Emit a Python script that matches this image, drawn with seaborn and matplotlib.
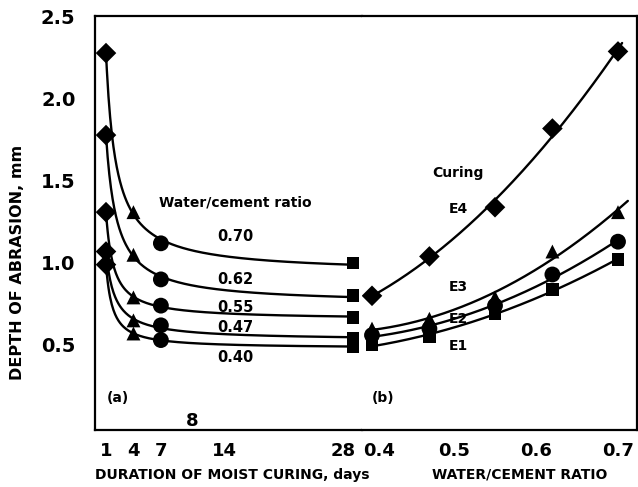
import numpy as np
import pandas as pd
import matplotlib
matplotlib.use("Agg")
import matplotlib.pyplot as plt
import matplotlib.transforms as mtransforms
import seaborn as sns

# ---------------- data ----------------
days = [1, 4, 7, 28]
day_ticks = [1, 4, 7, 14, 28]
wc_series = ["0.70", "0.62", "0.55", "0.47", "0.40"]
abr_wc070 = [2.28, 1.31, 1.12, 1.00]
abr_wc062 = [1.78, 1.05, 0.90, 0.80]
abr_wc055 = [1.31, 0.79, 0.74, 0.67]
abr_wc047 = [1.07, 0.65, 0.62, 0.54]
abr_wc040 = [0.99, 0.57, 0.53, 0.49]
day_shapes = ["D", "^", "o", "s"]

wc_ratio = [0.40, 0.47, 0.55, 0.62, 0.70]
wc_ticks = [0.4, 0.5, 0.6, 0.7]
curing = ["E4", "E3", "E2", "E1"]
abr_E4 = [0.80, 1.04, 1.34, 1.82, 2.29]
abr_E3 = [0.60, 0.66, 0.79, 1.07, 1.31]
abr_E2 = [0.56, 0.60, 0.74, 0.93, 1.13]
abr_E1 = [0.50, 0.55, 0.69, 0.84, 1.02]
curing_shapes = ["D", "^", "o", "s"]

yticks = [0.5, 1.0, 1.5, 2.0, 2.5]

# ---------------- style ----------------
sns.set_theme(style="white")
plt.rcParams["font.family"] = ["DejaVu Sans"]
plt.rcParams["font.weight"] = "bold"
plt.rcParams["text.color"] = "black"

W, H = 638, 487
fig = plt.figure(figsize=(W / 100, H / 100), dpi=100)
fig.patch.set_facecolor("white")

x0, xm, x1, yb, yt = 95, 362, 637, 430, 16
axL = fig.add_axes([x0 / W, (H - yb) / H, (xm - x0) / W, (yb - yt) / H])
axR = fig.add_axes([xm / W, (H - yb) / H, (x1 - xm) / W, (yb - yt) / H], sharey=axL)

marker_sizes = {"D": 110, "^": 100, "o": 130, "s": 85}

# ---------------- panel (a) ----------------
left_vals = [abr_wc070, abr_wc062, abr_wc055, abr_wc047, abr_wc040]
pts = []
curves = []
dd = np.linspace(1, 28, 300)
for name, vals in zip(wc_series, left_vals):
    d = np.array(days, float)
    A = np.column_stack([np.ones_like(d), 1 / d, 1 / d ** 2])
    coef, *_ = np.linalg.lstsq(A, np.array(vals), rcond=None)
    yy = coef[0] + coef[1] / dd + coef[2] / dd ** 2
    curves.append(pd.DataFrame({"x": dd, "y": yy, "series": name}))
    for dv, v, m in zip(days, vals, day_shapes):
        pts.append({"x": dv, "y": v, "shape": m, "series": name})
cL = pd.concat(curves)
pL = pd.DataFrame(pts)
sns.lineplot(data=cL, x="x", y="y", units="series", estimator=None, sort=False,
             color="black", lw=1.7, ax=axL)
sns.scatterplot(data=pL, x="x", y="y", style="shape", markers={m: m for m in day_shapes},
                size="shape", sizes=marker_sizes, color="black", edgecolor="black",
                linewidth=0, legend=False, ax=axL, zorder=5)

# ---------------- panel (b) ----------------
right_vals = [abr_E4, abr_E3, abr_E2, abr_E1]
curve_end = [0.705, 0.712, 0.70, 0.70]
pts = []
curves = []
for name, vals, m, xe in zip(curing, right_vals, curing_shapes, curve_end):
    coef = np.polyfit(wc_ratio, vals, 2)
    xx = np.linspace(0.40, xe, 200)
    curves.append(pd.DataFrame({"x": xx, "y": np.polyval(coef, xx), "series": name}))
    for w, v in zip(wc_ratio, vals):
        pts.append({"x": w, "y": v, "shape": m, "series": name})
cR = pd.concat(curves)
pR = pd.DataFrame(pts)
sns.lineplot(data=cR, x="x", y="y", units="series", estimator=None, sort=False,
             color="black", lw=1.7, ax=axR)
sns.scatterplot(data=pR, x="x", y="y", style="shape", markers={m: m for m in curing_shapes},
                size="shape", sizes=marker_sizes, color="black", edgecolor="black",
                linewidth=0, legend=False, ax=axR, zorder=5)

# ---------------- axes ----------------
px_day = (353 - 106) / 27
axL.set_xlim(1 - (106 - x0) / px_day, 1 + (xm - 106) / px_day)
px_wc = (618 - 372) / 0.3
axR.set_xlim(0.4 - (372 - xm) / px_wc, 0.7 + (x1 - 618) / px_wc)
axL.set_ylim(-3 / 164, (427 - yt) / 164)

for ax in (axL, axR):
    ax.set_xlabel("")
    ax.set_ylabel("")
    for s in ax.spines.values():
        s.set_linewidth(1.6)
        s.set_color("black")
    ax.tick_params(axis="x", direction="in", length=5, width=1.3, pad=9,
                   labelsize=13, colors="black")
axL.spines["right"].set_visible(False)
axR.spines["left"].set_visible(False)

axL.set_xticks(day_ticks)
axL.set_xticklabels([str(v) for v in day_ticks], fontweight="bold")
axR.set_xticks(wc_ticks)
axR.set_xticklabels([f"{v:.1f}" for v in wc_ticks], fontweight="bold")

# nudge the crowded "28" and "0.4" labels apart as in the reference
lab28 = axL.get_xticklabels()[-1]
lab28.set_transform(lab28.get_transform() +
                    mtransforms.ScaledTranslation(-7 / 72, 0, fig.dpi_scale_trans))
lab04 = axR.get_xticklabels()[0]
lab04.set_transform(lab04.get_transform() +
                    mtransforms.ScaledTranslation(5 / 72, 0, fig.dpi_scale_trans))

axL.set_yticks(yticks)
axL.set_yticklabels([f"{v:.1f}" for v in yticks], fontweight="bold")
axL.tick_params(axis="y", direction="in", length=6, width=1.3, pad=14,
                labelsize=14, colors="black")
axR.tick_params(axis="y", left=False, labelleft=False, right=False)

# ---------------- texts ----------------
def ftxt(x, y, s, size, **kw):
    fig.text(x / W, 1 - y / H, s, fontsize=size, fontweight="bold", color="black",
             ha=kw.pop("ha", "center"), va=kw.pop("va", "center"), **kw)

ftxt(232, 475, "DURATION OF MOIST CURING, days", 10)
ftxt(520, 475, "WATER/CEMENT RATIO", 10)
ftxt(18, 262, "DEPTH OF ABRASION, mm", 11.5, rotation=90)

ftxt(235, 202, "Water/cement ratio", 10)
for lab, yy in zip(wc_series, [236, 279, 307, 327, 358]):
    ftxt(235, yy, lab, 10.5)
ftxt(458, 173, "Curing", 10)
for lab, yy in zip(curing, [209, 287, 319, 346]):
    ftxt(458, yy, lab, 10)
ftxt(118, 398, "(a)", 10)
ftxt(383, 398, "(b)", 10)
ftxt(192, 421, "8", 13)

fig.savefig("out.png", dpi=100, facecolor="white")
